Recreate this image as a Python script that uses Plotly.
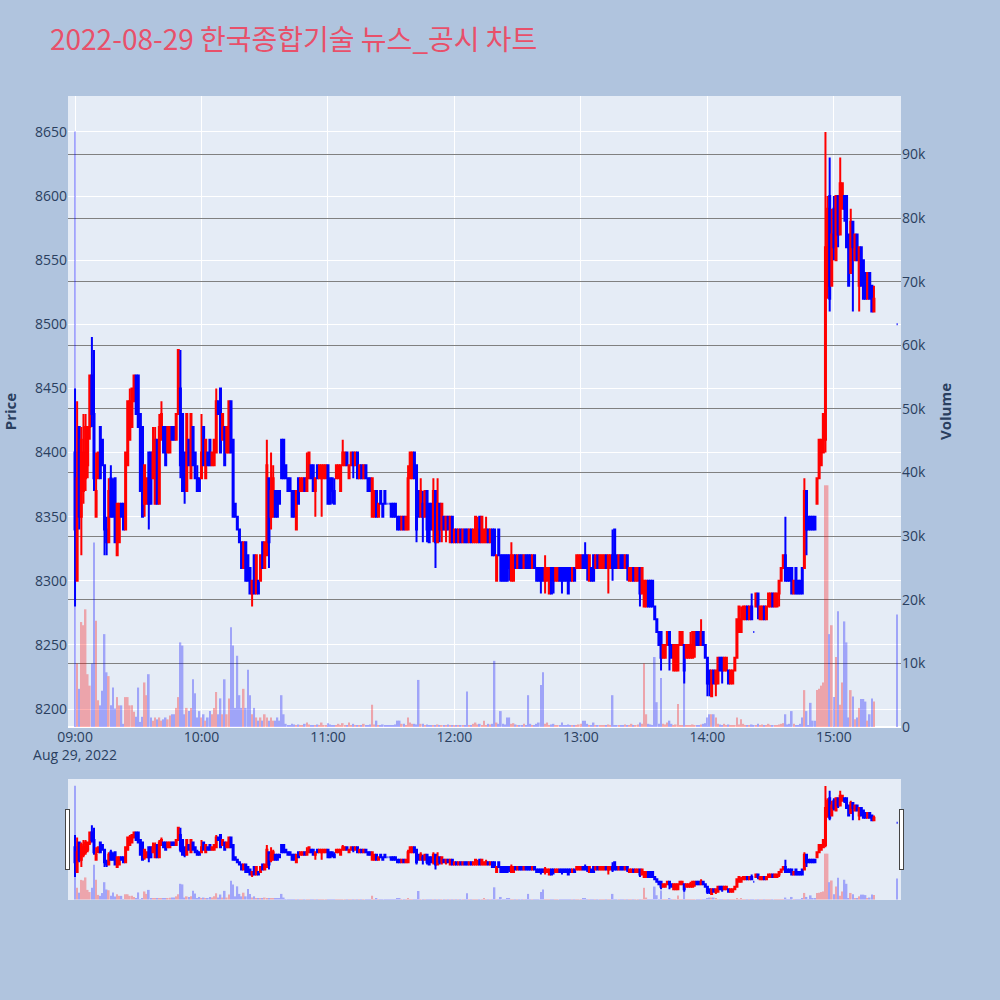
import pandas as pd
import plotly.graph_objects as go
from plotly.subplots import make_subplots

# minutes after 09:00 (continuous session to 15:19, then 15:30 closing auction)
minute_offsets = list(range(380)) + [390]

opens = [
    8400, 8300, 8420, 8350, 8370, 8380, 8390, 8420, 8460, 8430,  # 0
    8350, 8380, 8420, 8410, 8390, 8340, 8330, 8380, 8370, 8380,  # 10
    8320, 8330, 8360, 8360, 8340, 8390, 8410, 8420, 8440, 8460,  # 20
    8460, 8430, 8420, 8360, 8360, 8400, 8400, 8380, 8360, 8410,  # 30
    8360, 8410, 8420, 8420, 8400, 8400, 8420, 8420, 8410, 8430,  # 40
    8450, 8430, 8400, 8370, 8410, 8380, 8420, 8400, 8380, 8380,  # 50
    8380, 8420, 8380, 8400, 8410, 8390, 8390, 8400, 8440, 8450,  # 60
    8410, 8420, 8400, 8400, 8440, 8410, 8360, 8350, 8340, 8330,  # 70
    8310, 8330, 8320, 8310, 8290, 8320, 8290, 8300, 8300, 8330,  # 80
    8310, 8320, 8380, 8350, 8350, 8370, 8370, 8370, 8410, 8410,  # 90
    8390, 8380, 8380, 8370, 8370, 8340, 8380, 8370, 8370, 8380,  # 100
    8370, 8380, 8390, 8390, 8370, 8390, 8380, 8380, 8380, 8380,  # 110
    8390, 8380, 8380, 8370, 8380, 8380, 8370, 8390, 8390, 8400,  # 120
    8380, 8390, 8400, 8390, 8400, 8380, 8390, 8380, 8390, 8380,  # 130
    8380, 8350, 8350, 8370, 8350, 8370, 8360, 8370, 8360, 8360,  # 140
    8360, 8360, 8360, 8350, 8350, 8340, 8350, 8340, 8340, 8380,  # 150
    8380, 8400, 8390, 8370, 8350, 8360, 8350, 8370, 8360, 8360,  # 160
    8340, 8370, 8330, 8360, 8340, 8350, 8340, 8350, 8330, 8350,  # 170
    8330, 8340, 8330, 8340, 8330, 8340, 8340, 8330, 8340, 8330,  # 180
    8330, 8330, 8350, 8330, 8330, 8330, 8340, 8330, 8340, 8340,  # 190
    8300, 8340, 8320, 8320, 8320, 8320, 8320, 8300, 8300, 8320,  # 200
    8310, 8320, 8320, 8310, 8320, 8320, 8320, 8310, 8320, 8310,  # 210
    8310, 8310, 8310, 8300, 8300, 8290, 8310, 8310, 8300, 8300,  # 220
    8310, 8310, 8310, 8310, 8310, 8310, 8300, 8310, 8310, 8310,  # 230
    8310, 8320, 8320, 8320, 8300, 8310, 8320, 8310, 8320, 8310,  # 240
    8310, 8310, 8320, 8310, 8310, 8320, 8340, 8320, 8310, 8320,  # 250
    8320, 8310, 8320, 8300, 8300, 8310, 8300, 8300, 8310, 8290,  # 260
    8280, 8280, 8300, 8300, 8300, 8280, 8270, 8260, 8260, 8240,  # 270
    8240, 8250, 8260, 8250, 8230, 8230, 8230, 8250, 8250, 8250,  # 280
    8240, 8240, 8240, 8240, 8250, 8260, 8260, 8250, 8260, 8250,  # 290
    8240, 8230, 8210, 8230, 8220, 8220, 8240, 8240, 8230, 8230,  # 300
    8230, 8220, 8220, 8230, 8240, 8260, 8260, 8270, 8270, 8280,  # 310
    8270, 8280, 8260, 8280, 8290, 8270, 8270, 8280, 8270, 8280,  # 320
    8280, 8290, 8280, 8280, 8290, 8300, 8310, 8320, 8310, 8310,  # 330
    8310, 8290, 8310, 8300, 8300, 8310, 8310, 8370, 8350, 8350,  # 340
    8350, 8350, 8360, 8380, 8390, 8400, 8410, 8530, 8600, 8530,  # 350
    8590, 8550, 8600, 8570, 8590, 8600, 8600, 8570, 8540, 8580,  # 360
    8550, 8570, 8530, 8560, 8550, 8540, 8520, 8540, 8530, 8510,  # 370
    8500,                                                        # 15:30
]

highs = [
    8450, 8440, 8420, 8420, 8430, 8430, 8420, 8460, 8490, 8480,
    8400, 8400, 8420, 8410, 8390, 8350, 8380, 8390, 8380, 8380,
    8360, 8360, 8360, 8360, 8400, 8440, 8450, 8450, 8460, 8460,
    8460, 8430, 8420, 8390, 8380, 8400, 8400, 8420, 8420, 8410,
    8430, 8440, 8420, 8420, 8420, 8420, 8420, 8420, 8430, 8480,
    8480, 8430, 8400, 8430, 8410, 8430, 8420, 8400, 8390, 8380,
    8430, 8420, 8410, 8400, 8410, 8400, 8410, 8450, 8440, 8450,
    8430, 8420, 8420, 8440, 8440, 8410, 8360, 8350, 8340, 8330,
    8330, 8330, 8320, 8310, 8300, 8320, 8320, 8300, 8320, 8330,
    8330, 8410, 8380, 8400, 8390, 8370, 8370, 8370, 8410, 8410,
    8390, 8380, 8380, 8370, 8370, 8370, 8380, 8380, 8380, 8380,
    8400, 8400, 8390, 8390, 8380, 8390, 8390, 8390, 8390, 8390,
    8390, 8380, 8380, 8380, 8390, 8390, 8390, 8410, 8400, 8400,
    8390, 8400, 8400, 8400, 8400, 8390, 8390, 8390, 8390, 8380,
    8380, 8380, 8370, 8370, 8360, 8370, 8360, 8370, 8360, 8360,
    8360, 8360, 8360, 8350, 8350, 8350, 8350, 8350, 8390, 8400,
    8400, 8400, 8390, 8370, 8380, 8370, 8370, 8370, 8360, 8360,
    8380, 8370, 8380, 8360, 8360, 8350, 8350, 8350, 8350, 8350,
    8340, 8340, 8340, 8340, 8340, 8340, 8340, 8340, 8340, 8340,
    8350, 8350, 8350, 8350, 8340, 8350, 8340, 8340, 8340, 8340,
    8320, 8340, 8320, 8320, 8320, 8320, 8320, 8330, 8320, 8320,
    8320, 8320, 8320, 8320, 8320, 8320, 8320, 8320, 8320, 8310,
    8310, 8310, 8310, 8320, 8310, 8310, 8310, 8310, 8310, 8310,
    8310, 8310, 8310, 8310, 8310, 8310, 8310, 8310, 8320, 8320,
    8320, 8320, 8330, 8320, 8320, 8310, 8320, 8320, 8320, 8320,
    8320, 8320, 8320, 8320, 8320, 8340, 8340, 8320, 8320, 8320,
    8320, 8320, 8320, 8310, 8310, 8310, 8310, 8310, 8310, 8310,
    8300, 8300, 8300, 8300, 8300, 8280, 8270, 8260, 8260, 8250,
    8250, 8260, 8260, 8250, 8250, 8250, 8250, 8260, 8260, 8250,
    8250, 8250, 8260, 8260, 8260, 8260, 8260, 8270, 8260, 8250,
    8240, 8230, 8230, 8230, 8230, 8240, 8240, 8240, 8240, 8240,
    8230, 8230, 8230, 8240, 8270, 8280, 8280, 8280, 8280, 8280,
    8280, 8290, 8260, 8290, 8290, 8280, 8280, 8280, 8280, 8290,
    8290, 8290, 8290, 8290, 8300, 8310, 8320, 8350, 8310, 8310,
    8310, 8300, 8310, 8300, 8300, 8310, 8380, 8370, 8350, 8350,
    8350, 8350, 8380, 8410, 8410, 8430, 8650, 8600, 8630, 8590,
    8600, 8600, 8600, 8630, 8610, 8600, 8600, 8570, 8590, 8580,
    8570, 8570, 8560, 8560, 8550, 8540, 8540, 8540, 8530, 8530,
    8500,
]

lows = [
    8280, 8300, 8340, 8320, 8360, 8370, 8380, 8410, 8420, 8370,
    8350, 8380, 8380, 8390, 8320, 8320, 8330, 8350, 8350, 8330,
    8320, 8330, 8350, 8340, 8340, 8390, 8410, 8420, 8440, 8430,
    8420, 8370, 8350, 8350, 8360, 8340, 8360, 8380, 8360, 8360,
    8360, 8410, 8400, 8390, 8400, 8400, 8410, 8410, 8410, 8430,
    8380, 8370, 8360, 8370, 8390, 8380, 8390, 8380, 8370, 8370,
    8380, 8390, 8380, 8390, 8390, 8390, 8390, 8400, 8430, 8400,
    8410, 8390, 8400, 8400, 8400, 8350, 8350, 8340, 8330, 8310,
    8310, 8300, 8300, 8290, 8280, 8290, 8290, 8290, 8300, 8310,
    8310, 8320, 8310, 8340, 8350, 8350, 8350, 8360, 8380, 8380,
    8380, 8370, 8370, 8350, 8350, 8340, 8360, 8370, 8370, 8370,
    8370, 8380, 8380, 8370, 8350, 8380, 8380, 8350, 8380, 8380,
    8360, 8360, 8360, 8360, 8380, 8380, 8370, 8390, 8390, 8390,
    8380, 8390, 8380, 8390, 8380, 8380, 8380, 8380, 8380, 8370,
    8370, 8350, 8350, 8350, 8350, 8360, 8350, 8360, 8360, 8360,
    8350, 8350, 8350, 8340, 8340, 8340, 8340, 8340, 8340, 8380,
    8380, 8380, 8330, 8350, 8350, 8330, 8350, 8330, 8330, 8340,
    8330, 8310, 8330, 8330, 8330, 8340, 8330, 8340, 8330, 8330,
    8330, 8330, 8330, 8330, 8330, 8330, 8330, 8330, 8330, 8330,
    8330, 8330, 8330, 8330, 8330, 8330, 8330, 8330, 8320, 8320,
    8300, 8320, 8300, 8300, 8300, 8300, 8300, 8300, 8300, 8310,
    8310, 8310, 8310, 8310, 8310, 8310, 8310, 8310, 8310, 8300,
    8300, 8290, 8300, 8290, 8300, 8290, 8290, 8290, 8300, 8300,
    8300, 8290, 8300, 8300, 8290, 8300, 8300, 8300, 8310, 8310,
    8310, 8310, 8310, 8300, 8300, 8300, 8300, 8310, 8310, 8310,
    8310, 8310, 8310, 8290, 8310, 8300, 8310, 8310, 8310, 8310,
    8310, 8310, 8300, 8300, 8300, 8300, 8300, 8300, 8280, 8290,
    8280, 8280, 8280, 8280, 8280, 8270, 8260, 8250, 8230, 8240,
    8240, 8250, 8230, 8240, 8230, 8230, 8230, 8250, 8250, 8220,
    8240, 8240, 8240, 8240, 8240, 8250, 8250, 8250, 8250, 8240,
    8210, 8210, 8210, 8220, 8210, 8220, 8230, 8220, 8230, 8230,
    8220, 8220, 8220, 8230, 8240, 8260, 8260, 8270, 8270, 8270,
    8270, 8270, 8260, 8280, 8270, 8270, 8270, 8270, 8270, 8280,
    8280, 8280, 8280, 8280, 8280, 8300, 8310, 8300, 8300, 8300,
    8290, 8290, 8290, 8290, 8290, 8290, 8310, 8320, 8340, 8340,
    8340, 8340, 8360, 8380, 8390, 8400, 8400, 8520, 8510, 8530,
    8550, 8550, 8560, 8570, 8590, 8580, 8560, 8530, 8540, 8510,
    8550, 8550, 8510, 8530, 8520, 8520, 8520, 8520, 8510, 8510,
    8500,
]

closes = [
    8340, 8380, 8350, 8410, 8400, 8420, 8420, 8460, 8430, 8380,
    8370, 8400, 8380, 8390, 8340, 8330, 8370, 8350, 8350, 8330,
    8360, 8360, 8350, 8340, 8400, 8440, 8440, 8450, 8460, 8430,
    8420, 8370, 8350, 8390, 8380, 8360, 8360, 8400, 8410, 8360,
    8420, 8430, 8400, 8390, 8420, 8420, 8410, 8410, 8430, 8480,
    8390, 8370, 8370, 8430, 8390, 8430, 8390, 8380, 8370, 8370,
    8400, 8390, 8410, 8390, 8390, 8400, 8410, 8440, 8430, 8400,
    8430, 8390, 8420, 8440, 8400, 8350, 8350, 8340, 8330, 8310,
    8330, 8300, 8300, 8290, 8300, 8290, 8320, 8290, 8320, 8310,
    8330, 8390, 8330, 8370, 8380, 8350, 8350, 8360, 8380, 8380,
    8380, 8370, 8370, 8350, 8350, 8370, 8360, 8380, 8380, 8370,
    8380, 8400, 8380, 8370, 8380, 8380, 8390, 8390, 8390, 8390,
    8360, 8360, 8370, 8360, 8390, 8390, 8390, 8400, 8400, 8390,
    8390, 8400, 8390, 8400, 8380, 8390, 8380, 8390, 8380, 8370,
    8370, 8380, 8370, 8350, 8360, 8360, 8350, 8360, 8360, 8360,
    8350, 8350, 8350, 8340, 8340, 8350, 8340, 8350, 8380, 8400,
    8400, 8380, 8340, 8350, 8370, 8350, 8370, 8340, 8330, 8340,
    8370, 8330, 8360, 8340, 8360, 8340, 8350, 8340, 8350, 8330,
    8340, 8330, 8340, 8330, 8340, 8330, 8330, 8340, 8330, 8340,
    8350, 8340, 8330, 8350, 8340, 8340, 8330, 8340, 8320, 8320,
    8320, 8320, 8300, 8300, 8300, 8300, 8310, 8320, 8320, 8310,
    8320, 8310, 8310, 8320, 8310, 8310, 8310, 8320, 8310, 8300,
    8300, 8300, 8300, 8310, 8310, 8310, 8290, 8300, 8310, 8310,
    8300, 8300, 8300, 8300, 8290, 8300, 8310, 8300, 8320, 8320,
    8320, 8310, 8310, 8310, 8320, 8300, 8300, 8320, 8310, 8320,
    8320, 8320, 8310, 8320, 8320, 8310, 8310, 8310, 8320, 8310,
    8310, 8320, 8310, 8310, 8310, 8300, 8310, 8310, 8290, 8310,
    8300, 8300, 8280, 8280, 8280, 8270, 8260, 8250, 8240, 8250,
    8250, 8260, 8250, 8240, 8250, 8250, 8250, 8260, 8260, 8230,
    8250, 8250, 8250, 8260, 8260, 8250, 8250, 8260, 8250, 8240,
    8220, 8220, 8230, 8220, 8230, 8240, 8230, 8230, 8240, 8240,
    8220, 8230, 8230, 8240, 8270, 8280, 8270, 8280, 8280, 8270,
    8280, 8270, 8260, 8290, 8280, 8280, 8280, 8270, 8280, 8290,
    8290, 8280, 8290, 8290, 8300, 8310, 8320, 8300, 8300, 8300,
    8290, 8300, 8290, 8290, 8290, 8290, 8370, 8340, 8340, 8340,
    8340, 8340, 8380, 8410, 8410, 8430, 8560, 8590, 8520, 8570,
    8560, 8600, 8570, 8610, 8610, 8590, 8560, 8530, 8580, 8560,
    8570, 8550, 8560, 8530, 8520, 8520, 8540, 8520, 8510, 8520,
    8500,
]

volumes = [
    93600, 10000, 6000, 16500, 16000, 18500, 8300, 6500, 10000, 29000,
    16700, 4200, 3400, 5700, 14600, 8600, 8000, 3400, 6200, 2900,
    4700, 3400, 3400, 500, 4700, 4700, 3400, 3400, 2400, 1600,
    6200, 800, 1600, 7000, 5000, 8300, 1500, 1000, 1500, 1200,
    1500, 1000, 1200, 1500, 1200, 1800, 2000, 2000, 3000, 4700,
    13300, 12800, 2000, 3000, 2500, 3000, 7500, 5300, 1500, 2500,
    1500, 2000, 1000, 1500, 2500, 2000, 3000, 5500, 2000, 4500,
    2000, 7500, 2000, 4500, 15700, 12800, 3000, 11200, 5000, 3000,
    6000, 3000, 9000, 5000, 2000, 3000, 1500, 1000, 1500, 1000,
    2000, 1500, 1000, 1500, 1000, 1000, 1500, 1000, 5000, 2000,
    500, 300, 300, 500, 400, 300, 400, 300, 300, 500,
    700, 400, 300, 300, 300, 400, 300, 700, 300, 300,
    600, 400, 300, 300, 300, 500, 300, 600, 300, 300,
    700, 300, 500, 300, 300, 300, 300, 500, 300, 300,
    400, 3500, 400, 1000, 300, 300, 400, 300, 200, 200,
    300, 300, 400, 1000, 1000, 500, 500, 300, 1500, 700,
    500, 500, 400, 7400, 500, 500, 300, 400, 300, 300,
    300, 300, 400, 300, 300, 300, 300, 400, 300, 300,
    300, 300, 300, 300, 300, 300, 5600, 300, 300, 500,
    700, 400, 500, 300, 1000, 300, 500, 400, 500, 10400,
    700, 500, 2500, 500, 400, 1500, 1500, 500, 600, 400,
    300, 300, 300, 500, 300, 5000, 500, 300, 300, 500,
    700, 6600, 8600, 500, 700, 300, 400, 500, 300, 300,
    300, 700, 300, 300, 400, 300, 300, 300, 300, 400,
    500, 1000, 1000, 500, 300, 300, 700, 300, 300, 300,
    300, 300, 300, 400, 300, 5000, 300, 300, 300, 300,
    300, 400, 300, 300, 500, 300, 300, 400, 700, 500,
    10000, 2000, 500, 400, 300, 11000, 3900, 500, 7700, 500,
    400, 700, 1000, 500, 300, 400, 3600, 300, 300, 10000,
    300, 300, 300, 400, 300, 300, 300, 400, 500, 600,
    1500, 2000, 2000, 2000, 1500, 500, 400, 300, 500, 300,
    400, 300, 300, 300, 1500, 400, 1200, 500, 300, 300,
    300, 400, 300, 300, 500, 300, 400, 300, 300, 500,
    300, 300, 300, 300, 400, 500, 600, 2000, 400, 500,
    2500, 500, 300, 300, 500, 1500, 5800, 2500, 300, 3800,
    1000, 1000, 5800, 6000, 6500, 7000, 38000, 38000, 14600, 16000,
    4700, 11000, 18200, 3500, 7000, 16600, 13300, 1500, 5800, 4800,
    1200, 1500, 3000, 4400, 4400, 4000, 1000, 2000, 4500, 4000,
    17700,
]

session_start = pd.Timestamp("2022-08-29 09:00:00")
times = [session_start + pd.Timedelta(minutes=m) for m in minute_offsets]

vol_colors = []
prev_close = closes[0]
for o, c in zip(opens, closes):
    if c > o or (c == o and c > prev_close):
        vol_colors.append("red")
    else:
        vol_colors.append("blue")
    prev_close = c

fig = make_subplots(specs=[[{"secondary_y": True}]])

fig.add_trace(
    go.Candlestick(
        x=times, open=opens, high=highs, low=lows, close=closes,
        increasing=dict(line=dict(color="red", width=2), fillcolor="red"),
        decreasing=dict(line=dict(color="blue", width=2), fillcolor="blue"),
        showlegend=False, name="Price",
    ),
    secondary_y=False,
)

fig.add_trace(
    go.Bar(
        x=times, y=volumes, marker=dict(color=vol_colors, line=dict(width=0)),
        opacity=0.3, showlegend=False, name="Volume",
    ),
    secondary_y=True,
)

x_range = ["2022-08-29 08:56:40", "2022-08-29 15:31:50"]

fig.update_layout(
    width=1000, height=1000,
    paper_bgcolor="#B0C4DE",
    plot_bgcolor="#E5ECF6",
    title=dict(
        text="2022-08-29 한국종합기술 뉴스_공시 차트",
        x=0.05, xanchor="left", y=0.96, yanchor="middle",
        font=dict(family="Noto Sans CJK KR", size=28, color="#E8506A"),
    ),
    margin=dict(l=68, r=99, t=96, b=100),
    showlegend=False,
    bargap=0.2,
)

fig.update_xaxes(
    domain=[0, 1],
    range=x_range,
    dtick=3600000,
    gridcolor="white",
    rangeslider=dict(visible=True, thickness=0.15, bgcolor="#E5ECF6", range=x_range),
    tickfont=dict(size=14, color="#2a3f5f"),
)

fig.update_yaxes(
    title=dict(text="<b>Price</b>", font=dict(size=15, color="#2a3f5f")),
    range=[8186, 8678], dtick=50, gridcolor="white", automargin=False,
    tickfont=dict(size=14, color="#2a3f5f"),
    secondary_y=False,
)
fig.update_yaxes(
    title=dict(text="<b>Volume</b>", font=dict(size=15, color="#2a3f5f")),
    range=[0, 99200], dtick=10000, showgrid=True, gridcolor="gray", automargin=False,
    tickfont=dict(size=14, color="#2a3f5f"),
    secondary_y=True,
)

fig.write_html(
    "out.html",
    config={"displayModeBar": False},
    post_script="document.body.style.margin='0';",
)
